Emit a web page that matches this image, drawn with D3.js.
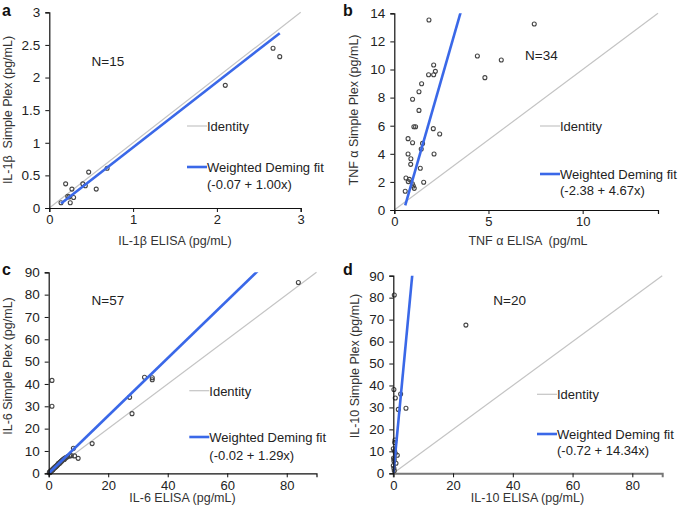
<!DOCTYPE html>
<html>
<head>
<meta charset="utf-8">
<script src="https://cdn.jsdelivr.net/npm/d3@7"></script>
<style>
  body { margin: 0; background: #fff; }
  svg text { font-family: "Liberation Sans", Arial, sans-serif; white-space: pre; }
</style>
</head>
<body>
<svg width="685" height="514"></svg>
<script>
// panel a: IL-1b
const il1bElisa = [0.14, 0.195, 0.22, 0.235, 0.27, 0.25, 0.29, 0.40, 0.43, 0.47, 0.56, 0.69, 2.10, 2.67, 2.75];
const il1bPlex  = [0.08, 0.37, 0.18, 0.17, 0.29, 0.08, 0.16, 0.37, 0.34, 0.55, 0.29, 0.61, 1.88, 2.45, 2.32];
const il1bTicks = [0, 0.5, 1, 1.5, 2, 2.5, 3];
const il1bXTicks = [0, 1, 2, 3];

// panel b: TNF a
const tnfElisa = [1.84, 4.41, 4.81, 2.09, 2.18, 2.09, 1.82, 1.45, 1.31, 0.97, 1.31, 1.04, 1.13, 2.07, 2.41, 0.73, 0.97,
                  1.50, 1.43, 0.73, 2.11, 0.88, 0.87, 1.38, 0.62, 0.80, 0.74, 0.96, 1.01, 1.06, 1.56, 0.58, 5.68, 7.43];
const tnfPlex  = [13.52, 10.96, 9.42, 10.32, 9.87, 9.63, 9.63, 8.99, 8.42, 7.88, 7.09, 5.93, 5.93, 5.79, 5.41, 5.08, 4.79,
                  4.74, 4.34, 3.99, 3.99, 3.65, 3.25, 2.97, 2.28, 2.18, 2.02, 1.87, 1.71, 1.54, 1.97, 1.33, 10.68, 13.24];
const tnfYTicks = [0, 2, 4, 6, 8, 10, 12, 14];
const tnfXTicks = [0, 5, 10];

// panel c: IL-6
const il6Elisa = [83.9, 32.2, 34.8, 34.8, 27.2, 28.0, 14.6, 8.3, 1.1, 1.1, 9.9, 8.7, 7.6,
                  0.2, 0.4, 0.5, 0.7, 0.8, 1.0, 1.2, 1.3, 1.5, 1.6, 1.8, 2.0, 2.1, 2.3, 2.5, 2.6, 2.8, 3.0,
                  3.2, 3.4, 3.5, 3.7, 3.9, 4.1, 4.3, 4.5, 4.8, 5.0, 5.3, 5.6, 6.0, 6.4, 0.3, 0.6, 0.9, 1.4,
                  1.9, 2.4, 2.9, 3.3, 3.8, 4.4, 5.2, 7.0];
const il6Plex  = [85.4, 43.0, 42.8, 41.9, 34.0, 26.7, 13.3, 11.2, 41.6, 30.0, 6.7, 7.8, 7.9,
                  0.3, 0.5, 0.8, 0.9, 1.1, 1.3, 1.5, 1.8, 1.9, 2.1, 2.4, 2.6, 2.7, 3.0, 3.2, 3.3, 3.6, 3.9,
                  4.1, 4.4, 4.5, 4.8, 5.0, 5.3, 5.5, 5.8, 6.1, 6.4, 6.6, 6.9, 7.2, 7.5, 0.6, 0.6, 1.2, 1.6,
                  2.5, 2.9, 3.6, 4.5, 4.6, 5.5, 6.2, 7.8];
const il6YTicks = [0, 10, 20, 30, 40, 50, 60, 70, 80, 90];
const il6XTicks = [0, 20, 40, 60, 80];

// panel d: IL-10
const il10Elisa = [24.3, 0.33, 0.2, 0.67, 2.45, 1.67, 4.24, 0.56, 0.45, 0.0, 0.45, 0.67, 1.34, 0.2, 0.9, 0.0, 0.2, 0.33, 0.1, 0.3];
const il10Plex  = [67.5, 81.2, 38.2, 34.3, 36.1, 29.1, 29.6, 15.2, 14.0, 11.2, 10.3, 9.1, 8.2, 5.6, 4.6, 3.5, 2.3, 1.2, 7.0, 6.4];
const il10YTicks = [0, 10, 20, 30, 40, 50, 60, 70, 80, 90];
const il10XTicks = [0, 20, 40, 60, 80];

const panels = [
    {letter: "a", xs: il1bElisa, ys: il1bPlex, max: 3, xTicks: il1bXTicks, yTicks: il1bTicks,
     fit: [-0.07, 1.00], fitText: "(-0.07 + 1.00x)", n: "N=15",
     xr: [49.3, 300.7], yr: [208, 12.3],
     xTitle: "IL-1\u03b2 ELISA (pg/mL)", xTitlePos: [175, 245],
     yTitle: "IL-1\u03b2  Simple Plex (pg/mL)", yTitlePos: [12, 110],
     nPos: [91.5, 66], legX: 187, legY: [126, 167, 184], bottomGrey: false},
    {letter: "b", xs: tnfElisa, ys: tnfPlex, max: 14, xTicks: tnfXTicks, yTicks: tnfYTicks,
     fit: [-2.38, 4.67], fitText: "(-2.38 + 4.67x)", n: "N=34",
     xr: [394.3, 658], yr: [210, 13.3],
     xTitle: "TNF \u03b1 ELISA  (pg/mL", xTitlePos: [528, 245],
     yTitle: "TNF \u03b1 Simple Plex (pg/mL)", yTitlePos: [358, 110],
     nPos: [525, 60], legX: 540, legY: [126, 174, 190], bottomGrey: false},
    {letter: "c", xs: il6Elisa, ys: il6Plex, max: 90, xTicks: il6XTicks, yTicks: il6YTicks,
     fit: [-0.02, 1.29], fitText: "(-0.02 + 1.29x)", n: "N=57",
     xr: [48.7, 316.5], yr: [473.3, 272.3],
     xTitle: "IL-6 ELISA (pg/mL)", xTitlePos: [182.5, 502],
     yTitle: "IL-6 Simple Plex (pg/mL)", yTitlePos: [12, 366],
     nPos: [91.5, 305], legX: 189.3, legY: [390.7, 437, 455], bottomGrey: false},
    {letter: "d", xs: il10Elisa, ys: il10Plex, max: 90, xTicks: il10XTicks, yTicks: il10YTicks,
     fit: [-0.72, 14.34], fitText: "(-0.72 + 14.34x)", n: "N=20",
     xr: [393.3, 662.2], yr: [473.3, 275.7],
     xTitle: "IL-10 ELISA (pg/mL)", xTitlePos: [527.5, 502],
     yTitle: "IL-10 Simple Plex (pg/mL)", yTitlePos: [359, 366],
     nPos: [493.3, 305], legX: 537, legY: [394.3, 434, 450], bottomGrey: true}
];

const BLUE = "#3a68e8";
const GREY = "#c4c4c4";
const TXT = "#222";

function drawPanel(svg, p, idx) {
    let x = d3.scaleLinear().domain([0, p.max]).range(p.xr);
    let y = d3.scaleLinear().domain([0, p.max]).range(p.yr);
    let g = svg.append("g");

    let clipId = "clip" + idx;
    svg.append("clipPath").attr("id", clipId)
        .append("rect")
        .attr("x", p.xr[0]).attr("y", p.yr[1])
        .attr("width", p.xr[1] - p.xr[0]).attr("height", p.yr[0] - p.yr[1]);

    // identity line
    g.append("line")
        .attr("x1", x(0)).attr("y1", y(0))
        .attr("x2", x(p.max)).attr("y2", y(p.max))
        .attr("stroke", GREY).attr("stroke-width", 1.2);

    // points
    let pts = p.xs.map((v, i) => [v, p.ys[i]]);
    g.selectAll("circle.pt").data(pts).enter().append("circle")
        .attr("class", "pt")
        .attr("cx", d => x(d[0])).attr("cy", d => y(d[1]))
        .attr("r", 2)
        .attr("fill", "none")
        .attr("stroke", "#444")
        .attr("stroke-width", 1.1);

    // fit line, from min to max of the data, clipped to the plot
    let x0 = d3.min(p.xs), x1 = d3.max(p.xs);
    let fy = v => p.fit[0] + p.fit[1] * v;
    g.append("line")
        .attr("clip-path", `url(#${clipId})`)
        .attr("x1", x(x0)).attr("y1", y(fy(x0)))
        .attr("x2", x(x1)).attr("y2", y(fy(x1)))
        .attr("stroke", BLUE).attr("stroke-width", 2.6);

    // axes
    let fmt = d3.format("~g");
    let ax = g.append("g")
        .attr("transform", `translate(0,${p.yr[0]})`)
        .call(d3.axisBottom(x).tickValues(p.xTicks).tickSize(4).tickPadding(3).tickFormat(fmt));
    ax.select(".domain").attr("stroke", p.bottomGrey ? "#777" : "#111")
        .attr("stroke-width", p.bottomGrey ? 2 : 1.2);
    ax.selectAll(".tick line").attr("stroke", "#111");
    ax.selectAll("text").attr("font-size", 13).attr("fill", TXT);

    let ay = g.append("g")
        .attr("transform", `translate(${p.xr[0]},0)`)
        .call(d3.axisLeft(y).tickValues(p.yTicks).tickSize(4).tickPadding(5).tickFormat(fmt));
    ay.select(".domain").attr("stroke", "#111").attr("stroke-width", 1.2);
    ay.selectAll(".tick line").attr("stroke", "#111");
    ay.selectAll("text").attr("font-size", 13.5).attr("fill", TXT);

    // titles
    g.append("text")
        .attr("x", p.xTitlePos[0]).attr("y", p.xTitlePos[1])
        .attr("text-anchor", "middle").attr("font-size", 12.5).attr("fill", "#333")
        .text(p.xTitle);
    g.append("text")
        .attr("transform", `translate(${p.yTitlePos[0]},${p.yTitlePos[1]}) rotate(-90)`)
        .attr("text-anchor", "middle").attr("font-size", 12.5).attr("fill", "#333")
        .text(p.yTitle);

    // panel letter
    let lx = idx % 2 == 0 ? 2 : 343;
    let ly = idx < 2 ? 16 : 275;
    g.append("text").attr("x", lx).attr("y", ly)
        .attr("font-size", 16).attr("font-weight", "bold").attr("fill", "#111")
        .text(p.letter);

    // N label
    g.append("text").attr("x", p.nPos[0]).attr("y", p.nPos[1])
        .attr("font-size", 13.5).attr("fill", TXT).text(p.n);

    // legend
    g.append("line")
        .attr("x1", p.legX).attr("x2", p.legX + 20)
        .attr("y1", p.legY[0]).attr("y2", p.legY[0])
        .attr("stroke", GREY).attr("stroke-width", 1.2);
    g.append("text").attr("x", p.legX + 20).attr("y", p.legY[0] + 5)
        .attr("font-size", 13).attr("fill", TXT).text("Identity");
    g.append("line")
        .attr("x1", p.legX).attr("x2", p.legX + 20)
        .attr("y1", p.legY[1]).attr("y2", p.legY[1])
        .attr("stroke", BLUE).attr("stroke-width", 2.6);
    g.append("text").attr("x", p.legX + 20).attr("y", p.legY[1] + 5)
        .attr("font-size", 13).attr("fill", TXT).text("Weighted Deming fit");
    g.append("text").attr("x", p.legX + 20).attr("y", p.legY[2] + 5)
        .attr("font-size", 13).attr("fill", TXT).text(p.fitText);
}

let svg = d3.select("svg");
panels.forEach((p, i) => drawPanel(svg, p, i));
</script>
</body>
</html>
